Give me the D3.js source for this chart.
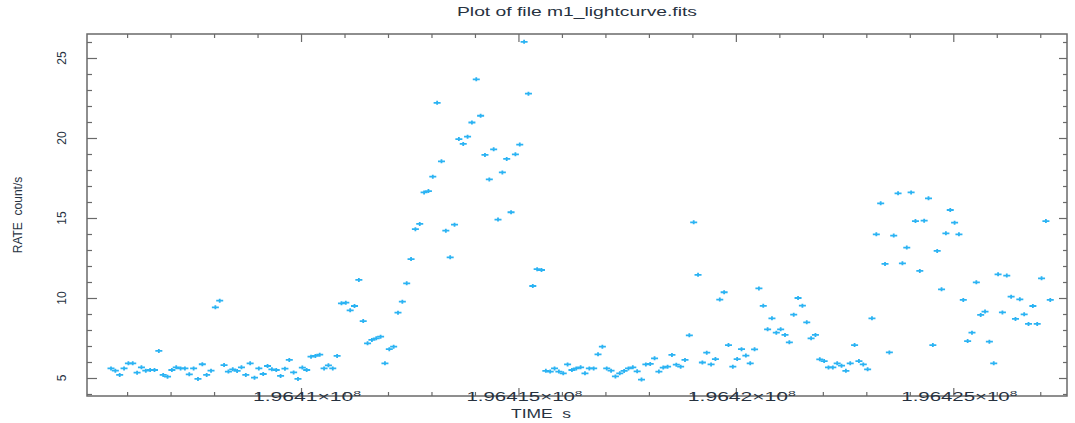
<!DOCTYPE html>
<html><head><meta charset="utf-8">
<script src="https://cdn.jsdelivr.net/npm/d3@7"></script>
<style>body{margin:0;background:#fff;overflow:hidden}</style>
</head><body>
<svg id="chart" width="1075" height="423"></svg>
<script>
// ---- data ----
const TIME_ZERO = 196400000; // seconds
const timeOffsets = [
  5630, 5730, 5830, 5930, 6030, 6130, 6230, 6330, 6430, 6530,
  6630, 6730, 6830, 6930, 7030, 7130, 7230, 7330, 7430, 7530,
  7630, 7730, 7830, 7930, 8030, 8130, 8230, 8330, 8430, 8530,
  8630, 8730, 8830, 8930, 9030, 9130, 9230, 9330, 9430, 9530,
  9630, 9730, 9830, 9930, 10030, 10130, 10230, 10330, 10430, 10530,
  10630, 10730, 10830, 10930, 11030, 11130, 11230, 11330, 11430, 11530,
  11630, 11730, 11830, 11930, 12030, 12130, 12230, 12330, 12430, 12530,
  12630, 12730, 12830, 12930, 13030, 13130, 13230, 13330, 13430, 13530,
  13630, 13730, 13830, 13930, 14030, 14130, 14230, 14330, 14430, 14530,
  14630, 14730, 14830, 14930, 15030, 15130, 15230, 15330, 15430, 15530,
  15630, 15730, 15830, 15930, 16030, 16130, 16230, 16330, 16430, 16530,
  16630, 16730, 16830, 16930, 17030, 17130, 17230, 17330, 17430, 17530,
  17630, 17730, 17830, 17930, 18030, 18130, 18230, 18330, 18430, 18530,
  18630, 18730, 18830, 18930, 19030, 19130, 19230, 19330, 19430, 19530,
  19630, 19730, 19830, 19930, 20030, 20130, 20230, 20330, 20430, 20530,
  20630, 20730, 20830, 20930, 21030, 21130, 21230, 21330, 21430, 21530,
  21630, 21730, 21830, 21930, 22030, 22130, 22230, 22330, 22430, 22530,
  22630, 22730, 22830, 22930, 23030, 23130, 23230, 23330, 23430, 23530,
  23630, 23730, 23830, 23930, 24030, 24130, 24230, 24330, 24430, 24530,
  24630, 24730, 24830, 24930, 25030, 25130, 25230, 25330, 25430, 25530,
  25630, 25730, 25830, 25930, 26030, 26130, 26230, 26330, 26430, 26530,
  26630, 26730, 26830, 26930, 27030, 27130, 27230
];
const rates = [
  5.6, 5.46, 5.19, 5.6, 5.92, 5.92, 5.33, 5.67, 5.46, 5.5,
  5.5, 6.69, 5.19, 5.08, 5.5, 5.67, 5.6, 5.6, 5.23, 5.6,
  4.94, 5.86, 5.19, 5.46, 9.42, 9.83, 5.81, 5.4, 5.54, 5.44,
  5.67, 5.19, 5.92, 5.02, 5.6, 5.25, 5.75, 5.54, 5.5, 5.13,
  5.58, 6.13, 5.35, 4.94, 5.65, 5.5, 6.33, 6.38, 6.46, 5.6,
  5.79, 5.6, 6.38, 9.67, 9.71, 9.23, 9.5, 11.13, 8.56, 7.17,
  7.38, 7.48, 7.58, 5.92, 6.8, 6.96, 9.08, 9.77, 10.92, 12.43,
  14.3, 14.63, 16.6, 16.68, 17.58, 22.2, 18.54, 14.21, 12.54, 14.58,
  19.93, 19.63, 20.08, 20.97, 23.67, 21.39, 18.94, 17.41, 19.29, 14.9,
  17.85, 18.69, 15.36, 18.98, 19.59, 26.01, 22.77, 10.75, 11.8, 11.75,
  5.45, 5.4, 5.6, 5.4, 5.29, 5.85, 5.5, 5.6, 5.67, 5.29,
  5.6, 5.6, 6.48, 6.96, 5.6, 5.46, 5.1, 5.29, 5.44, 5.6,
  5.67, 5.42, 4.9, 5.85, 5.88, 6.23, 5.4, 5.65, 5.71, 6.44,
  5.83, 5.71, 6.13, 7.67, 14.73, 11.45, 5.97, 6.58, 5.85, 6.18,
  9.9, 10.36, 7.06, 5.71, 6.18, 6.8, 6.4, 5.92, 6.79, 10.6,
  9.51, 8.04, 8.73, 7.83, 8.04, 7.69, 7.23, 8.96, 10.0, 9.52,
  8.48, 7.48, 7.69, 6.17, 6.06, 5.66, 5.66, 5.92, 5.77, 5.45,
  5.92, 7.06, 6.06, 5.85, 5.54, 8.73, 13.98, 15.92, 12.13, 6.6,
  13.9, 16.54, 12.17, 13.15, 16.6, 14.81, 11.69, 14.83, 16.23, 7.06,
  12.94, 10.54, 14.04, 15.5, 14.71, 13.98, 9.88, 7.31, 7.83, 10.98,
  8.94, 9.15, 7.27, 5.92, 11.48, 9.1, 11.4, 10.08, 8.69, 9.92,
  8.98, 8.38, 9.5, 8.38, 11.23, 14.81, 9.88
];
const xDomain = [196405078, 196427615];
const yDomain = [3.875, 26.5];
const xMajorTicks = [196410000, 196415000, 196420000, 196425000];
const xTickMantissas = ["1.9641", "1.96415", "1.9642", "1.96425"];
const xTickExponent = "8";
const yMajorTicks = [5, 10, 15, 20, 25];
const titleText = "Plot of file m1_lightcurve.fits";
const xLabelText = "TIME  s";
const yLabelText = "RATE  count/s";

// ---- layout ----
const W = 1075, H = 423;
const plot = {left: 87, right: 1067, top: 34, bottom: 396};
const axisColor = "#6a6a6a";
const textColor = "#27323f";
const pointColor = "#2bb3f3";
const font = "'Liberation Sans', Arial, Helvetica, sans-serif";

const svg = d3.select("#chart");
const x = d3.scaleLinear().domain(xDomain).range([plot.left, plot.right]);
const y = d3.scaleLinear().domain(yDomain).range([plot.bottom, plot.top]);

const points = timeOffsets.map((t, i) => ({t: TIME_ZERO + t, r: rates[i]}));

// minor tick values
const xMinor = d3.range(Math.ceil(xDomain[0] / 1000) * 1000, xDomain[1], 1000)
  .filter(v => v % 5000 !== 0);
const yMinor = d3.range(Math.ceil(yDomain[0]), yDomain[1], 1).filter(v => v % 5 !== 0);

// axes with inward ticks, no labels
function styleAxis(g) {
  g.select(".domain").remove();
  g.selectAll("line").attr("stroke", axisColor).attr("stroke-width", 1.2);
  g.selectAll("text").remove();
}
const axB = svg.append("g").attr("transform", `translate(0,${plot.bottom})`);
axB.call(d3.axisBottom(x).tickValues(xMajorTicks).tickSize(-8)).call(styleAxis);
axB.append("g").call(d3.axisBottom(x).tickValues(xMinor).tickSize(-4)).call(styleAxis);
const axT = svg.append("g").attr("transform", `translate(0,${plot.top})`);
axT.call(d3.axisTop(x).tickValues(xMajorTicks).tickSize(-8)).call(styleAxis);
axT.append("g").call(d3.axisTop(x).tickValues(xMinor).tickSize(-4)).call(styleAxis);
const axL = svg.append("g").attr("transform", `translate(${plot.left},0)`);
axL.call(d3.axisLeft(y).tickValues(yMajorTicks).tickSize(-10)).call(styleAxis);
axL.append("g").call(d3.axisLeft(y).tickValues(yMinor).tickSize(-5)).call(styleAxis);
const axR = svg.append("g").attr("transform", `translate(${plot.right},0)`);
axR.call(d3.axisRight(y).tickValues(yMajorTicks).tickSize(-8)).call(styleAxis);
axR.append("g").call(d3.axisRight(y).tickValues(yMinor).tickSize(-4)).call(styleAxis);

// frame
svg.append("rect")
  .attr("x", plot.left).attr("y", plot.top)
  .attr("width", plot.right - plot.left).attr("height", plot.bottom - plot.top)
  .attr("fill", "none").attr("stroke", axisColor).attr("stroke-width", 1.5);

// points (small plus markers)
svg.append("g").selectAll("path").data(points).join("path")
  .attr("transform", d => `translate(${x(d.t)},${y(d.r)})`)
  .attr("d", "M-3.5,0H3.5M0,-2V2")
  .attr("stroke", pointColor).attr("stroke-width", 1.8).attr("fill", "none");

// title
svg.append("text")
  .attr("x", (plot.left + plot.right) / 2).attr("y", 16)
  .attr("text-anchor", "middle")
  .attr("font-family", font).attr("font-size", 12).attr("fill", textColor)
  .attr("textLength", 240).attr("lengthAdjust", "spacingAndGlyphs")
  .text(titleText);

// x tick labels
const xl = svg.append("g");
xMajorTicks.forEach((v, i) => {
  const t = xl.append("text")
    .attr("x", x(v) + 6).attr("y", 401)
    .attr("text-anchor", "middle")
    .attr("font-family", font).attr("font-size", 12).attr("fill", textColor)
    .attr("textLength", xTickMantissas[i].length > 6 ? 116 : 108)
    .attr("lengthAdjust", "spacingAndGlyphs");
  t.append("tspan").text(xTickMantissas[i] + "×10");
  t.append("tspan").attr("dy", -5).attr("font-size", 8).text(xTickExponent);
});

// x label
svg.append("text")
  .attr("x", 541).attr("y", 418)
  .attr("text-anchor", "middle")
  .attr("font-family", font).attr("font-size", 12).attr("fill", textColor)
  .attr("textLength", 60).attr("lengthAdjust", "spacingAndGlyphs")
  .attr("xml:space", "preserve")
  .text(xLabelText);

// y tick labels (rotated)
svg.append("g").selectAll("text").data(yMajorTicks).join("text")
  .attr("transform", d => `translate(66,${y(d)}) rotate(-90)`)
  .attr("text-anchor", "middle")
  .attr("font-family", font).attr("font-size", 12).attr("fill", textColor)
  .text(d => d);

// y label
svg.append("text")
  .attr("transform", `translate(22,${(plot.top + plot.bottom) / 2}) rotate(-90)`)
  .attr("text-anchor", "middle")
  .attr("font-family", font).attr("font-size", 12).attr("fill", textColor)
  .attr("xml:space", "preserve")
  .text(yLabelText);
</script>
</body></html>
